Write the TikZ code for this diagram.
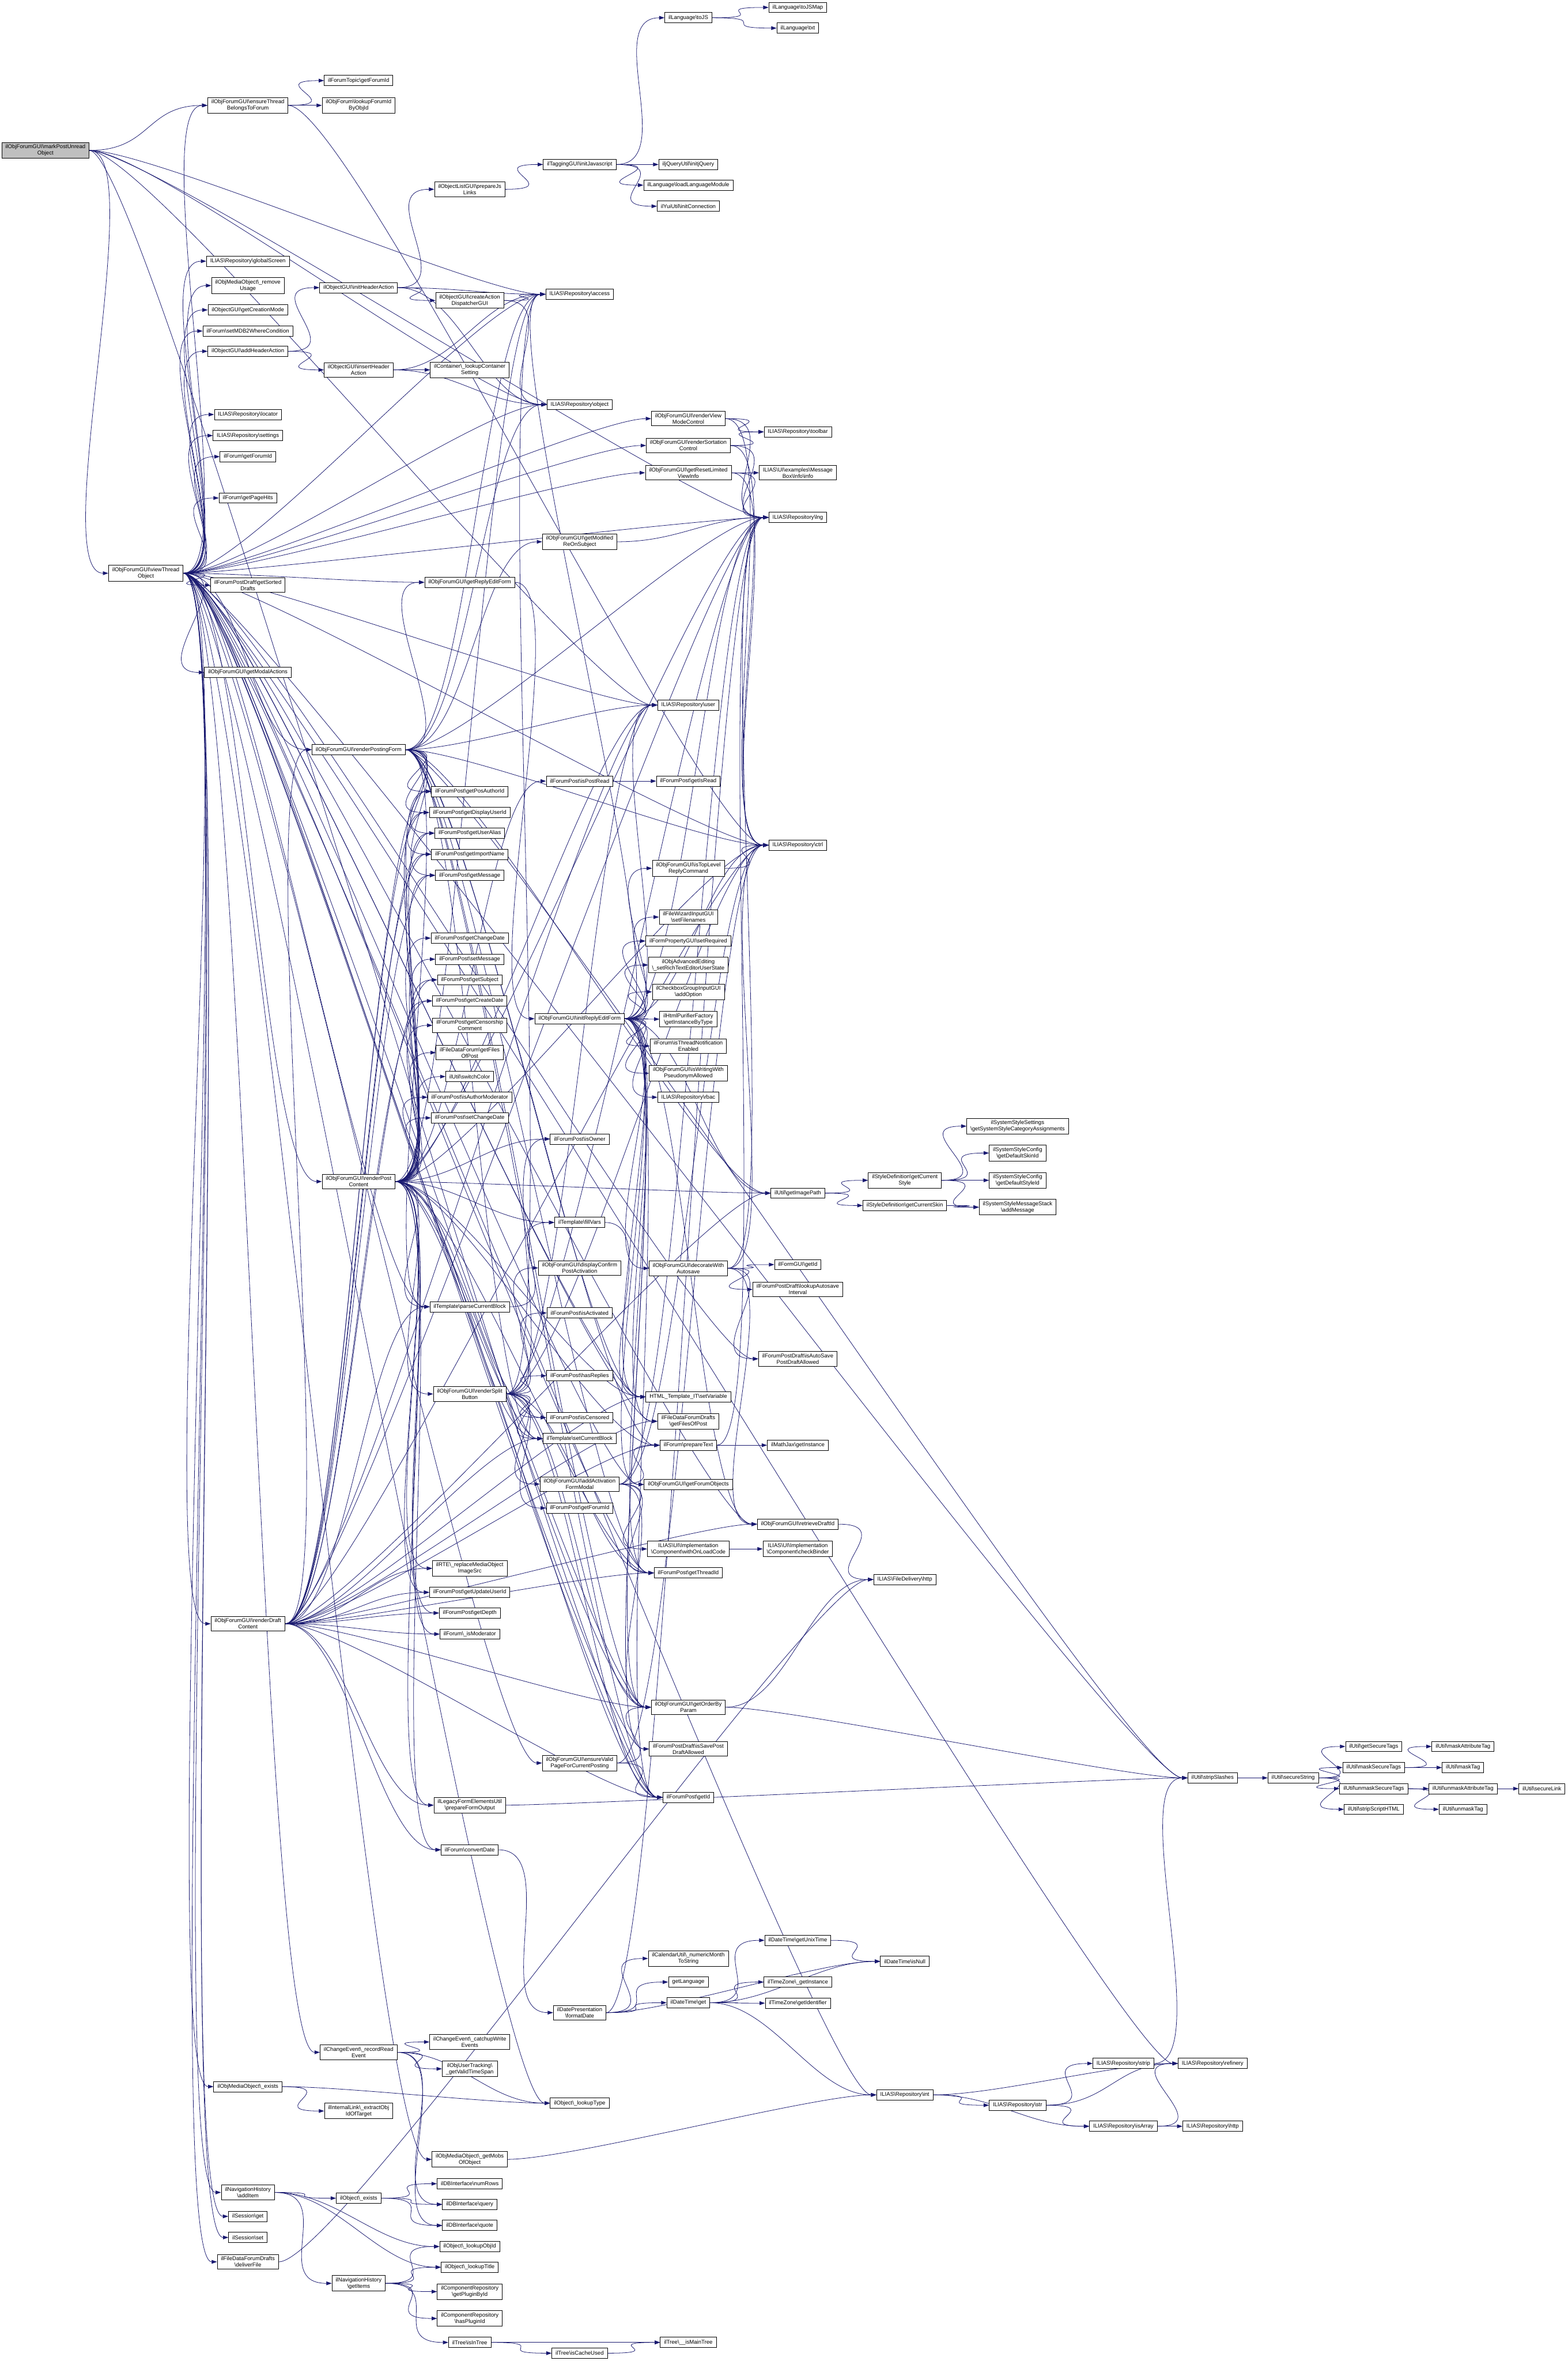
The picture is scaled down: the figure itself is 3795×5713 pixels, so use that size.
\documentclass[tikz,border=0pt]{standalone}
\usepackage{fontspec}
\setmainfont{Liberation Sans}
\usetikzlibrary{arrows.meta,backgrounds}
\definecolor{midblue}{HTML}{191970}
\newcommand{\bksl}{\textbackslash}

\begin{document}
\begin{tikzpicture}[
  x=1pt,y=-1pt,
  func/.style={draw=black,line width=1.2pt,fill=white,align=center,
               font=\fontsize{13.4}{15.4}\selectfont,
               inner xsep=9pt,inner ysep=5pt,minimum height=25pt},
  focus/.style={func,fill=black!25},
  call/.style={draw=midblue,line width=1.1pt,-{Triangle[length=13pt,width=9pt]},
               to path={(\tikztostart.east) .. controls +(150,0) and +(-150,0)
                        .. (\tikztotarget.west) \tikztonodes}}
]
  \useasboundingbox (0,0) rectangle (3795,5713);

  \node[focus] (rt) at (110,364) {ilObjForumGUI\bksl markPostUnread\\Object};
  \node[func] (vt) at (353,1387) {ilObjForumGUI\bksl viewThread\\Object};

  \node[func] (et) at (600,255) {ilObjForumGUI\bksl ensureThread\\BelongsToForum};
  \node[func] (gscr) at (600,632) {ILIAS\bksl Repository\bksl globalScreen};
  \node[func] (rmus) at (600,691) {ilObjMediaObject\bksl\_remove\\Usage};
  \node[func] (crmode) at (600,750) {ilObjectGUI\bksl getCreationMode};
  \node[func] (mdb2) at (600,801) {ilForum\bksl setMDB2WhereCondition};
  \node[func] (addha) at (600,850) {ilObjectGUI\bksl addHeaderAction};
  \node[func] (loc) at (600,1003) {ILIAS\bksl Repository\bksl locator};
  \node[func] (sett) at (600,1054) {ILIAS\bksl Repository\bksl settings};
  \node[func] (ffid) at (600,1105) {ilForum\bksl getForumId};
  \node[func] (phits) at (600,1205) {ilForum\bksl getPageHits};
  \node[func] (sdrafts) at (600,1416) {ilForumPostDraft\bksl getSorted\\Drafts};
  \node[func] (modal) at (600,1627) {ilObjForumGUI\bksl getModalActions};
  \node[func] (rdc) at (600,3929) {ilObjForumGUI\bksl renderDraft\\Content};
  \node[func] (mobex) at (600,5049) {ilObjMediaObject\bksl\_exists};
  \node[func] (additem) at (600,5305) {ilNavigationHistory\\\bksl addItem};
  \node[func] (sget) at (600,5363) {ilSession\bksl get};
  \node[func] (sset) at (600,5414) {ilSession\bksl set};
  \node[func] (deliv) at (600,5473) {ilFileDataForumDrafts\\\bksl deliverFile};

  \node[func] (tfid) at (868,195) {ilForumTopic\bksl getForumId};
  \node[func] (lfid) at (868,255) {ilObjForum\bksl lookupForumId\\ByObjId};
  \node[func] (initha) at (868,696) {ilObjectGUI\bksl initHeaderAction};
  \node[func] (insha) at (868,895) {ilObjectGUI\bksl insertHeader\\Action};
  \node[func] (rpf) at (868,1814) {ilObjForumGUI\bksl renderPostingForm};
  \node[func] (rpc) at (868,2859) {ilObjForumGUI\bksl renderPost\\Content};
  \node[func] (rre) at (868,4966) {ilChangeEvent\bksl\_recordRead\\Event};
  \node[func] (xobj) at (868,5108) {ilInternalLink\bksl\_extractObj\\IdOfTarget};
  \node[func] (oex) at (868,5319) {ilObject\bksl\_exists};
  \node[func] (items) at (868,5525) {ilNavigationHistory\\\bksl getItems};

  \node[func] (pjs) at (1137,458) {ilObjectListGUI\bksl prepareJs\\Links};
  \node[func] (cad) at (1137,727) {ilObjectGUI\bksl createAction\\DispatcherGUI};
  \node[func] (lcs) at (1137,895) {ilContainer\bksl\_lookupContainer\\Setting};
  \node[func] (ref) at (1137,1409) {ilObjForumGUI\bksl getReplyEditForm};
  \node[func] (pauth) at (1137,1915) {ilForumPost\bksl getPosAuthorId};
  \node[func] (pdisp) at (1137,1966) {ilForumPost\bksl getDisplayUserId};
  \node[func] (palias) at (1137,2016) {ilForumPost\bksl getUserAlias};
  \node[func] (pimp) at (1137,2067) {ilForumPost\bksl getImportName};
  \node[func] (pmsg) at (1137,2118) {ilForumPost\bksl getMessage};
  \node[func] (pchg) at (1137,2270) {ilForumPost\bksl getChangeDate};
  \node[func] (psetm) at (1137,2321) {ilForumPost\bksl setMessage};
  \node[func] (psubj) at (1137,2371) {ilForumPost\bksl getSubject};
  \node[func] (pcre) at (1137,2422) {ilForumPost\bksl getCreateDate};
  \node[func] (pcens) at (1137,2481) {ilForumPost\bksl getCensorship\\Comment};
  \node[func] (pfiles) at (1137,2547) {ilFileDataForum\bksl getFiles\\OfPost};
  \node[func] (swc) at (1137,2605) {ilUtil\bksl switchColor};
  \node[func] (pamod) at (1137,2655) {ilForumPost\bksl isAuthorModerator};
  \node[func] (psetc) at (1137,2705) {ilForumPost\bksl setChangeDate};
  \node[func] (pcb) at (1137,3162) {ilTemplate\bksl parseCurrentBlock};
  \node[func] (rsb) at (1137,3373) {ilObjForumGUI\bksl renderSplit\\Button};
  \node[func] (rte) at (1137,3795) {ilRTE\bksl\_replaceMediaObject\\ImageSrc};
  \node[func] (pupd) at (1137,3853) {ilForumPost\bksl getUpdateUserId};
  \node[func] (pdepth) at (1137,3903) {ilForumPost\bksl getDepth};
  \node[func] (ismod) at (1137,3954) {ilForum\bksl\_isModerator};
  \node[func] (pfo) at (1137,4368) {ilLegacyFormElementsUtil\\\bksl prepareFormOutput};
  \node[func] (cdate) at (1137,4476) {ilForum\bksl convertDate};
  \node[func] (catchup) at (1137,4941) {ilChangeEvent\bksl\_catchupWrite\\Events};
  \node[func] (vts) at (1137,5006) {ilObjUserTracking\bksl\\\_getValidTimeSpan};
  \node[func] (mobs) at (1137,5225) {ilObjMediaObject\bksl\_getMobs\\OfObject};
  \node[func] (nrows) at (1137,5284) {ilDBInterface\bksl numRows};
  \node[func] (dbq) at (1137,5334) {ilDBInterface\bksl query};
  \node[func] (dbquote) at (1137,5385) {ilDBInterface\bksl quote};
  \node[func] (lobjid) at (1137,5436) {ilObject\bksl\_lookupObjId};
  \node[func] (ltitle) at (1137,5486) {ilObject\bksl\_lookupTitle};
  \node[func] (plugid) at (1137,5545) {ilComponentRepository\\\bksl getPluginById};
  \node[func] (hasplug) at (1137,5610) {ilComponentRepository\\\bksl hasPluginId};
  \node[func] (intree) at (1137,5668) {ilTree\bksl isInTree};

  \node[func] (tagjs) at (1403,398) {ilTaggingGUI\bksl initJavascript};
  \node[func] (acc) at (1403,712) {ILIAS\bksl Repository\bksl access};
  \node[func] (obj) at (1403,979) {ILIAS\bksl Repository\bksl object};
  \node[func] (modre) at (1403,1311) {ilObjForumGUI\bksl getModified\\ReOnSubject};
  \node[func] (pread) at (1403,1890) {ilForumPost\bksl isPostRead};
  \node[func] (iref) at (1403,2465) {ilObjForumGUI\bksl initReplyEditForm};
  \node[func] (owner) at (1403,2756) {ilForumPost\bksl isOwner};
  \node[func] (fvars) at (1403,2958) {ilTemplate\bksl fillVars};
  \node[func] (dcpa) at (1403,3068) {ilObjForumGUI\bksl displayConfirm\\PostActivation};
  \node[func] (pact) at (1403,3177) {ilForumPost\bksl isActivated};
  \node[func] (prepl) at (1403,3329) {ilForumPost\bksl hasReplies};
  \node[func] (pcensd) at (1403,3430) {ilForumPost\bksl isCensored};
  \node[func] (scb) at (1403,3481) {ilTemplate\bksl setCurrentBlock};
  \node[func] (aafm) at (1403,3591) {ilObjForumGUI\bksl addActivation\\FormModal};
  \node[func] (pfid) at (1403,3649) {ilForumPost\bksl getForumId};
  \node[func] (evp) at (1403,4266) {ilObjForumGUI\bksl ensureValid\\PageForCurrentPosting};
  \node[func] (fdate) at (1403,4870) {ilDatePresentation\\\bksl formatDate};
  \node[func] (ltype) at (1403,5089) {ilObject\bksl\_lookupType};
  \node[func] (cache) at (1403,5694) {ilTree\bksl isCacheUsed};

  \node[func] (tojs) at (1666,43) {ilLanguage\bksl toJS};
  \node[func] (jq) at (1666,398) {iljQueryUtil\bksl initjQuery};
  \node[func] (llm) at (1666,448) {ilLanguage\bksl loadLanguageModule};
  \node[func] (yui) at (1666,499) {ilYuiUtil\bksl initConnection};
  \node[func] (rvmc) at (1666,1013) {ilObjForumGUI\bksl renderView\\ModeControl};
  \node[func] (rsc) at (1666,1078) {ilObjForumGUI\bksl renderSortation\\Control};
  \node[func] (rlvi) at (1666,1144) {ilObjForumGUI\bksl getResetLimited\\ViewInfo};
  \node[func] (usr) at (1666,1706) {ILIAS\bksl Repository\bksl user};
  \node[func] (isread) at (1666,1890) {ilForumPost\bksl getIsRead};
  \node[func] (tlrc) at (1666,2101) {ilObjForumGUI\bksl isTopLevel\\ReplyCommand};
  \node[func] (sfn) at (1666,2219) {ilFileWizardInputGUI\\\bksl setFilenames};
  \node[func] (sreq) at (1666,2277) {ilFormPropertyGUI\bksl setRequired};
  \node[func] (srte) at (1666,2335) {ilObjAdvancedEditing\\\bksl\_setRichTextEditorUserState};
  \node[func] (addopt) at (1666,2400) {ilCheckboxGroupInputGUI\\\bksl addOption};
  \node[func] (purif) at (1666,2466) {ilHtmlPurifierFactory\\\bksl getInstanceByType};
  \node[func] (tne) at (1666,2531) {ilForum\bksl isThreadNotification\\Enabled};
  \node[func] (pseud) at (1666,2597) {ilObjForumGUI\bksl isWritingWith\\PseudonymAllowed};
  \node[func] (rbac) at (1666,2655) {ILIAS\bksl Repository\bksl rbac};
  \node[func] (dwa) at (1666,3069) {ilObjForumGUI\bksl decorateWith\\Autosave};
  \node[func] (setvar) at (1666,3380) {HTML\_Template\_IT\bksl setVariable};
  \node[func] (dfiles) at (1666,3439) {ilFileDataForumDrafts\\\bksl getFilesOfPost};
  \node[func] (ptext) at (1666,3497) {ilForum\bksl prepareText};
  \node[func] (fobj) at (1666,3592) {ilObjForumGUI\bksl getForumObjects};
  \node[func] (onload) at (1666,3748) {ILIAS\bksl UI\bksl Implementation\\\bksl Component\bksl withOnLoadCode};
  \node[func] (tid) at (1666,3806) {ilForumPost\bksl getThreadId};
  \node[func] (order) at (1666,4131) {ilObjForumGUI\bksl getOrderBy\\Param};
  \node[func] (savep) at (1666,4232) {ilForumPostDraft\bksl isSavePost\\DraftAllowed};
  \node[func] (pid) at (1666,4349) {ilForumPost\bksl getId};
  \node[func] (month) at (1666,4739) {ilCalendarUtil\bksl\_numericMonth\\ToString};
  \node[func] (getlang) at (1666,4796) {getLanguage};
  \node[func] (dtget) at (1666,4846) {ilDateTime\bksl get};
  \node[func] (maintree) at (1666,5668) {ilTree\bksl\_\_isMainTree};

  \node[func] (tojsmap) at (1931,18) {ilLanguage\bksl toJSMap};
  \node[func] (txt) at (1931,68) {ilLanguage\bksl txt};
  \node[func] (tbar) at (1931,1045) {ILIAS\bksl Repository\bksl toolbar};
  \node[func] (info) at (1931,1144) {ILIAS\bksl UI\bksl examples\bksl Message\\Box\bksl Info\bksl info};
  \node[func] (lng) at (1931,1252) {ILIAS\bksl Repository\bksl lng};
  \node[func] (ctrl) at (1931,2045) {ILIAS\bksl Repository\bksl ctrl};
  \node[func] (imgpath) at (1931,2887) {ilUtil\bksl getImagePath};
  \node[func] (formid) at (1931,3060) {ilFormGUI\bksl getId};
  \node[func] (asint) at (1931,3120) {ilForumPostDraft\bksl lookupAutosave\\Interval};
  \node[func] (asallow) at (1931,3288) {ilForumPostDraft\bksl isAutoSave\\PostDraftAllowed};
  \node[func] (mathjax) at (1931,3497) {ilMathJax\bksl getInstance};
  \node[func] (draftid) at (1931,3688) {ilObjForumGUI\bksl retrieveDraftId};
  \node[func] (binder) at (1931,3748) {ILIAS\bksl UI\bksl Implementation\\\bksl Component\bksl checkBinder};
  \node[func] (unix) at (1931,4695) {ilDateTime\bksl getUnixTime};
  \node[func] (tzinst) at (1931,4796) {ilTimeZone\bksl\_getInstance};
  \node[func] (tzid) at (1931,4847) {ilTimeZone\bksl getIdentifier};

  \node[func] (cstyle) at (2190,2856) {ilStyleDefinition\bksl getCurrent\\Style};
  \node[func] (cskin) at (2190,2917) {ilStyleDefinition\bksl getCurrentSkin};
  \node[func] (fhttp) at (2190,3822) {ILIAS\bksl FileDelivery\bksl http};
  \node[func] (isnull) at (2190,4746) {ilDateTime\bksl isNull};
  \node[func] (rint) at (2190,5069) {ILIAS\bksl Repository\bksl int};

  \node[func] (sscat) at (2463,2725) {ilSystemStyleSettings\\\bksl getSystemStyleCategoryAssignments};
  \node[func] (defskin) at (2463,2790) {ilSystemStyleConfig\\\bksl getDefaultSkinId};
  \node[func] (defstyle) at (2463,2856) {ilSystemStyleConfig\\\bksl getDefaultStyleId};
  \node[func] (addmsg) at (2463,2921) {ilSystemStyleMessageStack\\\bksl addMessage};
  \node[func] (rstr) at (2463,5094) {ILIAS\bksl Repository\bksl str};

  \node[func] (rstrip) at (2719,4993) {ILIAS\bksl Repository\bksl strip};
  \node[func] (risarr) at (2719,5145) {ILIAS\bksl Repository\bksl isArray};
  \node[func] (strips) at (2935,4302) {ilUtil\bksl stripSlashes};
  \node[func] (refin) at (2935,4993) {ILIAS\bksl Repository\bksl refinery};
  \node[func] (rhttp) at (2935,5145) {ILIAS\bksl Repository\bksl http};
  \node[func] (secs) at (3130,4302) {ilUtil\bksl secureString};
  \node[func] (gst) at (3325,4226) {ilUtil\bksl getSecureTags};
  \node[func] (mst) at (3325,4277) {ilUtil\bksl maskSecureTags};
  \node[func] (ust) at (3325,4328) {ilUtil\bksl unmaskSecureTags};
  \node[func] (sst) at (3325,4378) {ilUtil\bksl stripScriptHTML};
  \node[func] (mat) at (3541,4226) {ilUtil\bksl maskAttributeTag};
  \node[func] (mtag) at (3541,4277) {ilUtil\bksl maskTag};
  \node[func] (uat) at (3541,4328) {ilUtil\bksl unmaskAttributeTag};
  \node[func] (utag) at (3541,4378) {ilUtil\bksl unmaskTag};
  \node[func] (slink) at (3732,4328) {ilUtil\bksl secureLink};

  \begin{scope}[on background layer]
    \foreach \t in {vt,et,lng,obj,acc,usr,pid}
      \draw[call] (rt) to (\t);
    \foreach \t in {tfid,lfid,ctrl}
      \draw[call] (et) to (\t);
    \foreach \t in {et,gscr,rmus,crmode,mdb2,addha,loc,sett,ffid,phits,sdrafts,
                    modal,rpf,rpc,rdc,mobex,additem,sget,sset,deliv,rre,acc,obj,
                    lng,usr,ctrl,rvmc,rsc,rlvi,ref,setvar,order,pid,tid,evp,mobs,
                    rint,refin,strips,savep,asallow,dfiles,draftid,scb,pcb,ltype,fobj}
      \draw[call] (vt) to (\t);
    \foreach \t in {initha,insha}
      \draw[call] (addha) to (\t);
    \foreach \t in {pjs,cad,acc,obj}
      \draw[call] (initha) to (\t);
    \draw[call] (pjs) to (tagjs);
    \foreach \t in {tojs,jq,llm,yui}
      \draw[call] (tagjs) to (\t);
    \foreach \t in {tojsmap,txt}
      \draw[call] (tojs) to (\t);
    \foreach \t in {acc,obj}
      \draw[call] (cad) to (\t);
    \foreach \t in {lcs,obj,acc}
      \draw[call] (insha) to (\t);
    \foreach \s in {rvmc,rsc}
      \foreach \t in {tbar,lng,ctrl}
        \draw[call] (\s) to (\t);
    \foreach \t in {info,lng,ctrl}
      \draw[call] (rlvi) to (\t);
    \draw[call] (modre) to (lng);
    \draw[call] (ref) to (iref);
    \foreach \t in {pauth,pdisp,palias,pimp,pmsg,ref,modre,lng,ctrl,usr,acc,obj,
                    pid,tid,setvar,scb,pcb,strips,imgpath,ptext,order}
      \draw[call] (rpf) to (\t);
    \foreach \t in {pauth,pdisp,palias,pimp,pmsg,pchg,psetm,psubj,pcre,pcens,
                    pfiles,swc,pamod,psetc,pcb,rsb,rte,pupd,pdepth,ismod,pfo,cdate,
                    pread,owner,fvars,pcensd,scb,pid,tid,setvar,ptext,imgpath,lng,
                    ctrl,usr,acc,order}
      \draw[call] (rpc) to (\t);
    \foreach \t in {rpf,rte,pupd,pdepth,ismod,pfo,cdate,pauth,pdisp,palias,pimp,
                    pmsg,psubj,pcre,pcb,scb,setvar,ptext,dfiles,imgpath,pid,tid,
                    lng,ctrl,usr,order,draftid}
      \draw[call] (rdc) to (\t);
    \foreach \t in {dcpa,pact,prepl,pcensd,scb,aafm,pfid,pid,tid,owner,lng,ctrl,
                    usr,acc,order}
      \draw[call] (rsb) to (\t);
    \foreach \t in {ptext,onload,order,tid,lng,ctrl}
      \draw[call] (aafm) to (\t);
    \draw[call] (onload) to (binder);
    \foreach \t in {mathjax,lng}
      \draw[call] (ptext) to (\t);
    \draw[call] (pread) to (isread);
    \foreach \t in {tlrc,sfn,sreq,srte,addopt,purif,tne,pseud,rbac,dwa,lng,ctrl,
                    usr,acc,setvar,dfiles,fobj,tid,order,savep,pid,draftid,imgpath}
      \draw[call] (iref) to (\t);
    \draw[call] (tlrc) to (ctrl);
    \foreach \t in {formid,asint,asallow,draftid,lng,ctrl}
      \draw[call] (dwa) to (\t);
    \draw[call] (draftid) to (fhttp);
    \foreach \t in {fhttp,strips}
      \draw[call] (order) to (\t);
    \foreach \t in {pid,order,ctrl}
      \draw[call] (evp) to (\t);
    \draw[call] (pfo) to (strips);
    \draw[call] (cdate) to (fdate);
    \foreach \t in {month,getlang,dtget,isnull,lng}
      \draw[call] (fdate) to (\t);
    \foreach \t in {unix,tzinst,tzid,isnull,rint}
      \draw[call] (dtget) to (\t);
    \draw[call] (unix) to (isnull);
    \foreach \t in {cstyle,cskin}
      \draw[call] (imgpath) to (\t);
    \foreach \t in {sscat,defskin,defstyle,addmsg}
      \draw[call] (cstyle) to (\t);
    \draw[call] (cskin) to (addmsg);
    \draw[call] (pcb) to (fvars);
    \draw[call] (fvars) to (setvar);
    \foreach \t in {catchup,vts,ltype,dbq,dbquote}
      \draw[call] (rre) to (\t);
    \foreach \t in {xobj,ltype}
      \draw[call] (mobex) to (\t);
    \draw[call] (mobs) to (rint);
    \foreach \t in {oex,lobjid,ltitle,items}
      \draw[call] (additem) to (\t);
    \foreach \t in {nrows,dbq,dbquote}
      \draw[call] (oex) to (\t);
    \foreach \t in {lobjid,ltitle,plugid,hasplug,intree}
      \draw[call] (items) to (\t);
    \foreach \t in {maintree,cache}
      \draw[call] (intree) to (\t);
    \draw[call] (cache) to (maintree);
    \draw[call] (deliv) to (fhttp);
    \draw[call] (strips) to (secs);
    \foreach \t in {gst,mst,ust,sst}
      \draw[call] (secs) to (\t);
    \foreach \t in {mat,mtag}
      \draw[call] (mst) to (\t);
    \foreach \t in {uat,utag}
      \draw[call] (ust) to (\t);
    \draw[call] (uat) to (slink);
    \foreach \t in {refin,rstr,risarr}
      \draw[call] (rint) to (\t);
    \foreach \t in {rstrip,refin,risarr}
      \draw[call] (rstr) to (\t);
    \foreach \t in {refin,rhttp}
      \draw[call] (risarr) to (\t);
    \draw[call] (rstrip) to (strips);
  \end{scope}
\end{tikzpicture}
\end{document}
